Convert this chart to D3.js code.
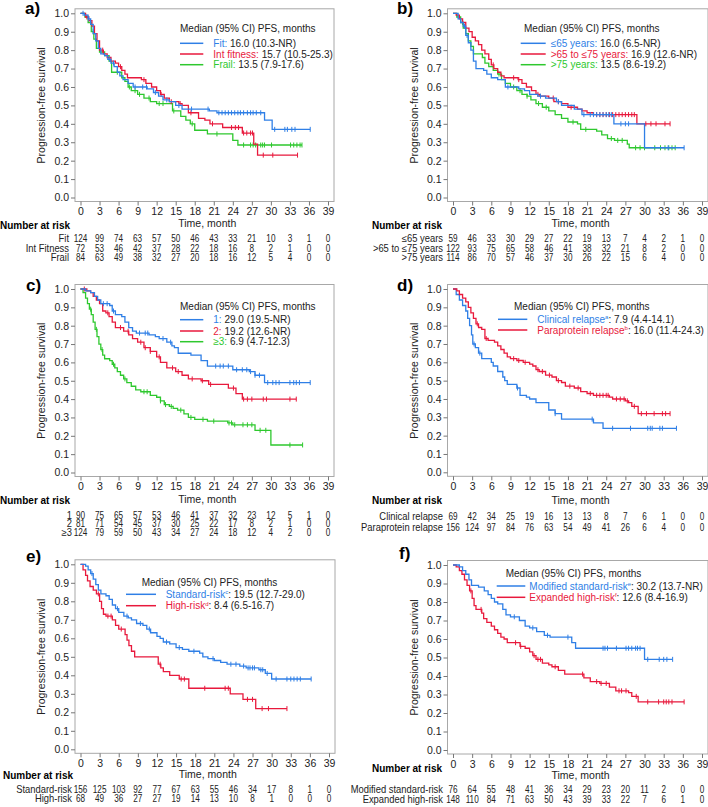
<!DOCTYPE html>
<html><head><meta charset="utf-8">
<script src="https://cdn.jsdelivr.net/npm/d3@7/dist/d3.min.js"></script>
<style>
body{margin:0;background:#fff}
svg{display:block;font-family:Arial,"Liberation Sans",sans-serif}
</style>
</head><body>
<svg id="chart" width="708" height="807"></svg>
<script>
// ---------------- DATA ----------------
const timeTicks = [0,3,6,9,12,15,18,21,24,27,30,33,36,39];
const yTicks = [0,0.1,0.2,0.3,0.4,0.5,0.6,0.7,0.8,0.9,1.0];
const legendTitle = "Median (95% CI) PFS, months";
const colors = {blue:"#2f7fe6", red:"#e8193c", green:"#2ec82e"};

// Panel a: fitness
const aFitSteps = [[0,1],[0.6,0.99],[1.2,0.97],[1.6,0.94],[2,0.89],[2.4,0.85],[2.8,0.81],[3.2,0.78],[3.8,0.77],[4.3,0.75],[4.8,0.73],[5.3,0.71],[5.8,0.68],[6.2,0.66],[6.7,0.64],[7.5,0.62],[8.3,0.6],[10.5,0.59],[11.5,0.57],[12.3,0.55],[13,0.53],[14,0.52],[15,0.5],[16,0.48],[20.3,0.47],[21.5,0.46],[29,0.42],[30.2,0.37]];
const aFitCensor = [0.4,1.3,4.6,5.2,8.6,9.8,10.4,11.8,13.6,15.5,17.5,20.1,21.8,22.3,22.8,23.3,23.8,24.3,24.8,25.2,25.7,26.3,26.8,27.2,27.7,28.4,30.6,32.2,32.6,33.3,33.8,36.2];
const aIntSteps = [[0,1],[0.8,0.98],[1.3,0.96],[1.8,0.93],[2.2,0.89],[2.6,0.85],[3,0.8],[3.6,0.78],[4.2,0.76],[4.8,0.74],[5.5,0.73],[6,0.71],[6.5,0.69],[7,0.67],[7.4,0.65],[9.6,0.64],[10.3,0.62],[11.2,0.6],[12,0.58],[12.6,0.56],[13.2,0.54],[14,0.52],[15.5,0.51],[16,0.5],[17,0.46],[18.6,0.43],[19.6,0.42],[20.4,0.4],[22.4,0.38],[25.5,0.35],[27.3,0.29],[27.9,0.23]];
const aIntCensor = [1,3.5,6.3,10,12.7,14.3,15.7,17.4,20.8,23.8,24.4,24.9,25.7,26.2,26.8,27.1,28.8,30.3,34.2];
const aFrailSteps = [[0,1],[0.7,0.98],[1.2,0.95],[1.7,0.9],[2.1,0.86],[2.5,0.81],[3,0.79],[3.8,0.77],[4.5,0.74],[4.9,0.68],[6.5,0.65],[7,0.63],[7.5,0.6],[8,0.58],[9,0.56],[10,0.54],[11,0.52],[12,0.51],[14.5,0.47],[15.8,0.44],[16.6,0.42],[17.3,0.4],[18,0.365],[20,0.345],[24,0.31],[24.8,0.285]];
const aFrailCensor = [2,5.8,7.7,8.6,9.3,10.8,12.4,13,14.7,17.6,21.5,25.7,26.8,27.2,27.6,28.4,28.7,29,30.1,33.1,33.6,34.1,34.6,34.9];
const aRiskLabels = ["Fit","Int Fitness","Frail"];
const aRiskFit = [124,99,74,63,57,50,46,43,33,21,10,3,1,0];
const aRiskInt = [72,53,46,42,37,28,22,18,16,8,2,1,0,0];
const aRiskFrail = [84,63,49,38,32,27,20,18,16,12,5,4,0,0];
const aLegendNames = ["Fit:","Int fitness:","Frail:"];
const aLegendValues = [" 16.0 (10.3-NR)"," 15.7 (10.5-25.3)"," 13.5 (7.9-17.6)"];

// Panel b: age
const bLe65Steps = [[0,1],[0.8,0.97],[1.2,0.95],[1.6,0.93],[2,0.88],[2.4,0.84],[2.8,0.8],[3.2,0.74],[3.6,0.7],[4.8,0.69],[5.3,0.67],[6,0.65],[7,0.64],[8.2,0.6],[10.3,0.59],[11.2,0.58],[12,0.56],[13.3,0.55],[14.5,0.54],[16.2,0.52],[17,0.5],[19,0.48],[20.2,0.45],[25.2,0.4],[30,0.27]];
const bLe65Censor = [1.8,2.2,8.6,13.7,16.5,20.5,21.5,22,22.5,23,23.5,24,24.4,24.8,26.3,27,27.5,33.7,36.2];
const bMidSteps = [[0,1],[0.5,0.99],[1,0.97],[1.5,0.95],[2,0.92],[2.5,0.9],[3,0.87],[3.5,0.85],[4,0.83],[4.5,0.8],[5,0.78],[5.6,0.75],[6,0.72],[6.4,0.7],[7,0.68],[7.5,0.66],[8,0.65],[10.2,0.64],[10.8,0.62],[11.5,0.6],[12.3,0.58],[13,0.56],[13.6,0.55],[15,0.54],[15.8,0.52],[17,0.51],[18,0.49],[19.5,0.48],[20.2,0.47],[21,0.46],[22,0.45],[28.8,0.4]];
const bMidCensor = [6.3,9.5,10.3,13.3,15.7,16.5,18.5,22.5,23,23.5,24,24.5,25,25.5,26,26.5,27,27.5,28,28.4,30.2,31,31.8,33.2,34];
const bGt75Steps = [[0,1],[0.6,0.98],[1.2,0.95],[1.6,0.92],[2,0.89],[2.4,0.85],[2.8,0.82],[3.2,0.78],[4.6,0.76],[5,0.73],[5.6,0.71],[6.3,0.69],[7,0.67],[7.6,0.64],[8.2,0.62],[9,0.6],[10,0.58],[10.8,0.56],[11.6,0.55],[12.2,0.53],[13,0.51],[14,0.49],[15,0.47],[16,0.45],[17,0.43],[18,0.41],[19.5,0.4],[20,0.37],[22.5,0.36],[23.3,0.34],[24.2,0.32],[25.3,0.31],[27.3,0.29],[27.6,0.27]];
const bGt75Censor = [1.5,7.2,9.5,10.5,11.6,13.4,14.6,18.8,20.8,24.8,25.8,26.5,28.6,29.3,30,31.6,32.5,33.2,33.8,34.3,34.8];
const bRiskLabels = ["\u226465 years",">65 to \u226475 years",">75 years"];
const bRiskLe65 = [59,46,33,30,29,27,22,19,13,7,4,2,1,0];
const bRiskMid = [122,93,75,65,58,46,41,38,32,21,8,2,0,0];
const bRiskGt75 = [114,86,70,57,46,37,30,26,22,15,6,4,0,0];
const bLegendNames = ["\u226465 years:",">65 to \u226475 years:",">75 years:"];
const bLegendValues = [" 16.0 (6.5-NR)"," 16.9 (12.6-NR)"," 13.5 (8.6-19.2)"];

// Panel c: prior lines
const c1Steps = [[0,1],[0.8,0.99],[1.6,0.98],[2.2,0.96],[2.7,0.94],[3.2,0.92],[4.6,0.91],[5,0.88],[5.5,0.86],[6.5,0.85],[7,0.82],[7.6,0.79],[8.2,0.77],[8.8,0.76],[10.8,0.75],[11.8,0.74],[12.4,0.73],[13.6,0.71],[14.4,0.69],[14.8,0.68],[15.4,0.65],[17.4,0.64],[19,0.61],[20,0.58],[24,0.56],[26.6,0.55],[27.5,0.53],[29,0.49]];
const c1Censor = [3.6,4.2,5.2,9.3,10.2,10.6,13,14.2,21.3,22,22.5,23.3,24.6,25.5,26.2,26.8,27.5,28.2,29.5,30.3,30.8,31.3,33,33.6,34,34.5,36.2];
const c2Steps = [[0,1],[1,0.99],[1.6,0.98],[2,0.96],[2.5,0.94],[3,0.92],[3.5,0.88],[4,0.87],[4.5,0.85],[5,0.82],[5.5,0.79],[6.8,0.77],[7.6,0.75],[8.2,0.73],[9,0.71],[10,0.68],[11,0.66],[12,0.63],[12.6,0.6],[13.6,0.57],[15,0.55],[16,0.53],[17,0.51],[19,0.5],[20.2,0.48],[23.3,0.46],[24.5,0.43],[25.5,0.4]];
const c2Censor = [0.6,4.3,6.3,7.5,9.5,10.2,11,12.4,14.5,15.4,17.6,19.2,20.5,24.1,25.7,26.3,27,28.8,29.3,33,34];
const c3Steps = [[0,1],[0.4,0.98],[0.8,0.95],[1.1,0.92],[1.4,0.89],[1.7,0.86],[2,0.82],[2.3,0.78],[2.6,0.74],[2.9,0.7],[3.2,0.67],[3.5,0.64],[3.8,0.62],[4.6,0.61],[5,0.59],[5.4,0.57],[5.8,0.55],[6.3,0.53],[6.8,0.51],[7.3,0.49],[8,0.47],[8.7,0.45],[9.5,0.44],[11,0.42],[12,0.41],[12.6,0.39],[13.2,0.37],[14,0.36],[14.6,0.35],[15.3,0.34],[16.3,0.32],[17,0.3],[18,0.29],[20,0.28],[23.2,0.27],[24,0.26],[27.5,0.23],[30,0.15]];
const c3Censor = [1.6,2.5,3.4,5.2,7,10,10.5,12.6,13.4,14.3,15.8,17.4,19.3,21,23.4,23.8,24.3,25.6,26.3,27,28.3,29.2,33,35];
const cRiskLabels = ["1","2","\u22653"];
const cRisk1 = [90,75,65,57,53,46,41,37,32,23,12,5,1,0];
const cRisk2 = [81,71,54,45,37,30,25,22,17,8,2,1,0,0];
const cRisk3 = [124,79,59,50,43,34,27,24,18,12,4,2,0,0];
const cLegendNames = ["1:","2:","\u22653:"];
const cLegendValues = [" 29.0 (19.5-NR)"," 19.2 (12.6-NR)"," 6.9 (4.7-12.3)"];

// Panel d: relapse type
const dClinSteps = [[0,1],[0.5,0.97],[1,0.94],[1.5,0.91],[2,0.88],[2.3,0.84],[2.6,0.8],[2.9,0.75],[3.1,0.7],[3.5,0.68],[4,0.65],[4.5,0.62],[6,0.6],[6.3,0.58],[7,0.55],[7.8,0.52],[8.1,0.5],[8.5,0.48],[10,0.46],[10.5,0.42],[11.5,0.41],[12,0.4],[13,0.38],[15,0.34],[16,0.32],[17,0.29],[22,0.27],[23.5,0.24]];
const dClinCensor = [3.3,4.2,10.1,16,21.8,25,27.8,30.5,30.9,31.2,32.4,32.8,35];
const dParaSteps = [[0,1],[0.6,0.99],[1,0.97],[1.5,0.95],[2,0.93],[2.4,0.9],[2.8,0.87],[3.2,0.84],[3.6,0.81],[4,0.79],[4.5,0.78],[5,0.73],[5.5,0.72],[6.5,0.71],[7,0.69],[7.5,0.67],[8,0.65],[8.5,0.63],[9,0.62],[10,0.61],[11,0.6],[12,0.59],[12.5,0.58],[13,0.56],[13.5,0.55],[14.5,0.53],[15.5,0.52],[16.2,0.5],[17,0.49],[17.6,0.47],[19,0.46],[20,0.44],[21,0.43],[22,0.42],[24.5,0.41],[25,0.4],[27,0.39],[27.5,0.38],[28,0.36],[29,0.32]];
const dParaCensor = [3.8,5.2,9.5,10.3,11.3,13.3,14,15.1,16.5,18.3,19.6,21.5,22.5,23,23.5,24,24.3,25.6,26.2,26.8,27.3,28.4,29.5,30.3,31.5,32.8,33.3,34];
const dRiskLabels = ["Clinical relapse","Paraprotein relapse"];
const dRiskClin = [69,42,34,25,19,16,13,13,8,7,6,1,0,0];
const dRiskPara = [156,124,97,84,76,63,54,49,41,26,6,4,0,0];
const dLegendNames = [["Clinical relapse","a"],["Paraprotein relapse","b"]];
const dLegendValues = [": 7.9 (4.4-14.1)",": 16.0 (11.4-24.3)"];

// Panel e: cytogenetic risk
const eStdSteps = [[0,1],[0.8,0.99],[1.2,0.97],[1.6,0.95],[2,0.92],[2.4,0.89],[2.8,0.86],[3.2,0.84],[4,0.83],[4.5,0.81],[5,0.78],[5.5,0.76],[6,0.74],[6.8,0.72],[7.5,0.71],[8,0.7],[8.8,0.68],[9.8,0.67],[10.4,0.65],[11,0.63],[12,0.61],[12.5,0.6],[13,0.58],[14,0.57],[15,0.55],[16,0.54],[17,0.53],[18.7,0.52],[19.2,0.5],[20,0.49],[21,0.48],[22,0.47],[23,0.46],[25,0.45],[26,0.44],[28,0.43],[29,0.41],[30,0.38]];
const eStdCensor = [1.8,5.8,7.3,9.4,10.8,13.5,15.5,17.8,20.8,23.6,24.4,25.6,26.3,26.6,27,27.3,28.3,28.6,29.3,30.7,32.4,33,33.5,34,34.5,36.2];
const eHighSteps = [[0,1],[0.4,0.97],[0.8,0.94],[1.1,0.91],[1.5,0.88],[2,0.86],[2.5,0.84],[3,0.8],[3.3,0.76],[3.6,0.73],[4,0.72],[5,0.7],[5.5,0.67],[6,0.65],[7,0.62],[7.3,0.59],[7.6,0.56],[8,0.53],[8.5,0.5],[12.2,0.46],[12.6,0.44],[13,0.42],[14,0.4],[15.5,0.38],[17,0.33],[23.5,0.3],[25.5,0.27],[27.5,0.22]];
const eHighCensor = [2.8,4.3,4.8,6.4,12.5,15.8,16.3,19.5,22.7,23.2,26.2,27,28.5,29.5,32.4];
const eRiskLabels = ["Standard-risk","High-risk"];
const eRiskStd = [156,125,103,92,77,67,63,55,46,34,17,8,1,0];
const eRiskHigh = [68,49,36,27,27,19,14,13,10,8,1,0,0,0];
const eLegendNames = [["Standard-risk","c"],["High-risk","d"]];
const eLegendValues = [": 19.5 (12.7-29.0)",": 8.4 (6.5-16.7)"];

// Panel f: modified risk
const fModSteps = [[0,1],[1,0.99],[1.5,0.97],[2,0.95],[2.5,0.92],[2.9,0.89],[4,0.88],[4.9,0.86],[5.5,0.84],[6,0.82],[6.5,0.8],[7,0.79],[7.8,0.76],[8.3,0.73],[9,0.72],[10.4,0.7],[11.3,0.67],[12,0.66],[13.1,0.64],[14.3,0.62],[15.2,0.61],[18.6,0.58],[19.2,0.55],[30,0.49]];
const fModCensor = [9.6,12.5,14.8,18,23.5,23.8,24.2,25.6,27.1,27.5,28,28.6,28.9,29.3,30.5,32.3,33,33.5,34.4];
const fExpSteps = [[0,1],[0.5,0.99],[1,0.97],[1.4,0.95],[1.8,0.92],[2.2,0.89],[2.6,0.86],[3,0.82],[3.3,0.78],[3.6,0.76],[4.5,0.74],[4.8,0.71],[5.3,0.69],[6,0.67],[6.5,0.65],[7,0.63],[7.5,0.61],[8,0.6],[8.5,0.58],[10.5,0.56],[11.3,0.55],[12,0.53],[12.5,0.51],[13,0.49],[14,0.47],[15,0.46],[15.5,0.45],[16.5,0.43],[17.5,0.41],[20.5,0.39],[21.5,0.37],[23,0.36],[24.5,0.34],[25.5,0.32],[27.5,0.31],[28,0.29],[29,0.26]];
const fExpCensor = [2.8,4.4,9.8,10.6,12.7,13.3,13.7,16,20.3,22.5,23.2,24,26,26.4,27.1,28.7,30.5,32.2,33,33.4,33.8,34.3,36.2];
const fRiskLabels = ["Modified standard-risk","Expanded high-risk"];
const fRiskMod = [76,64,55,48,41,36,34,29,23,20,11,2,0,0];
const fRiskExp = [148,110,84,71,63,50,43,39,33,22,7,6,1,0];
const fLegendNames = [["Modified standard-risk","e"],["Expanded high-risk","f"]];
const fLegendValues = [": 30.2 (13.7-NR)",": 12.6 (8.4-16.9)"];

// ---------------- LAYOUT ----------------
const panels = [
 {label:"a)", lab:[25,14], x:[80.5,328], y:[197.5,13.3], timeY:226.5,
  leg:{tx:180, ty:31.5, rows:[43.3,54,64.7], lx:[180,203.3], textX:213.3},
  nar:{x:0,y:229, labelX:69, rows:[242,251.5,261]},
  curves:[{s:aFrailSteps,c:aFrailCensor,col:colors.green,end:34.9},{s:aIntSteps,c:aIntCensor,col:colors.red,end:34.2},{s:aFitSteps,c:aFitCensor,col:colors.blue,end:36.2}],
  legCols:[colors.blue,colors.red,colors.green], legNames:aLegendNames, legVals:aLegendValues,
  riskLabels:aRiskLabels, risk:[aRiskFit,aRiskInt,aRiskFrail]},
 {label:"b)", lab:[397,14], x:[453,702], y:[197.5,13.3], timeY:226.5,
  leg:{tx:524, ty:31.5, rows:[43.3,54,64.7], lx:[520.7,545.7], textX:550.7},
  nar:{x:372,y:229, labelX:443, rows:[242,251.5,261]},
  curves:[{s:bGt75Steps,c:bGt75Censor,col:colors.green,end:34.8},{s:bMidSteps,c:bMidCensor,col:colors.red,end:34},{s:bLe65Steps,c:bLe65Censor,col:colors.blue,end:36.2}],
  legCols:[colors.blue,colors.red,colors.green], legNames:bLegendNames, legVals:bLegendValues,
  riskLabels:bRiskLabels, risk:[bRiskLe65,bRiskMid,bRiskGt75]},
 {label:"c)", lab:[26,291], x:[80.5,328], y:[472.5,289], timeY:503,
  leg:{tx:180, ty:309.5, rows:[319.7,331,341.7], lx:[180,203.3], textX:213.3},
  nar:{x:0,y:504, labelX:72, rows:[518.5,527.2,535.9]},
  curves:[{s:c3Steps,c:c3Censor,col:colors.green,end:35},{s:c2Steps,c:c2Censor,col:colors.red,end:34},{s:c1Steps,c:c1Censor,col:colors.blue,end:36.2}],
  legCols:[colors.blue,colors.red,colors.green], legNames:cLegendNames, legVals:cLegendValues,
  riskLabels:cRiskLabels, risk:[cRisk1,cRisk2,cRisk3]},
 {label:"d)", lab:[397,291], x:[453,702], y:[472.3,289], timeY:504,
  leg:{tx:514, ty:309.5, rows:[319.3,330], lx:[498,527.3], textX:537.3},
  nar:{x:372,y:504, labelX:443, rows:[519.7,530.7]},
  curves:[{s:dClinSteps,c:dClinCensor,col:colors.blue,end:35},{s:dParaSteps,c:dParaCensor,col:colors.red,end:34}],
  legCols:[colors.blue,colors.red], legNames:dLegendNames, legVals:dLegendValues,
  riskLabels:dRiskLabels, risk:[dRiskClin,dRiskPara]},
 {label:"e)", lab:[26,562], x:[80.5,329], y:[749.3,564.3], timeY:778.3,
  leg:{tx:141.7, ty:585.5, rows:[594.3,605.7], lx:[126,156], textX:165.7},
  nar:{x:3,y:779, labelX:72, rows:[793.3,802.3]},
  curves:[{s:eHighSteps,c:eHighCensor,col:colors.red,end:32.4},{s:eStdSteps,c:eStdCensor,col:colors.blue,end:36.2}],
  legCols:[colors.blue,colors.red], legNames:eLegendNames, legVals:eLegendValues,
  riskLabels:eRiskLabels, risk:[eRiskStd,eRiskHigh]},
 {label:"f)", lab:[399,559], x:[453,702], y:[750,565], timeY:779,
  leg:{tx:505.7, ty:576.5, rows:[586,597.3], lx:[496.7,525.3], textX:529.3},
  nar:{x:372,y:771.7, labelX:443, rows:[793.3,803.3]},
  curves:[{s:fExpSteps,c:fExpCensor,col:colors.red,end:36.2},{s:fModSteps,c:fModCensor,col:colors.blue,end:34.4}],
  legCols:[colors.blue,colors.red], legNames:fLegendNames, legVals:fLegendValues,
  riskLabels:fRiskLabels, risk:[fRiskMod,fRiskExp]}
];

const svg = d3.select("#chart");
const TXT = "#222";
const FONT = "Arial, 'Liberation Sans', sans-serif";

function survAt(steps, t){
  let s = 1;
  for (const [tt, v] of steps){ if (tt <= t) s = v; else break; }
  return s;
}

panels.forEach(p => {
  const x = d3.scaleLinear().domain([0,39]).range(p.x);
  const y = d3.scaleLinear().domain([0,1]).range(p.y);
  const g = svg.append("g");
  const bx0 = x(0)-5.5, bx1 = x(39)+6, by0 = y(1)-4.5, by1 = y(0)+4;

  // frame
  g.append("rect").attr("x",bx0).attr("y",by0).attr("width",bx1-bx0).attr("height",by1-by0)
    .attr("fill","none").attr("stroke","#a8a8a8").attr("stroke-width",1);

  // y axis ticks
  const yAxis = d3.axisLeft(y).tickValues(yTicks).tickFormat(d3.format(".1f")).tickSize(4).tickPadding(2);
  const ya = g.append("g").attr("transform",`translate(${bx0},0)`).call(yAxis);
  ya.select(".domain").remove();
  ya.selectAll("line").attr("stroke","#777");
  ya.selectAll("text").attr("fill",TXT).style("font-size","10.5px").style("font-family",FONT);

  // x axis ticks
  const xAxis = d3.axisBottom(x).tickValues(timeTicks).tickFormat(d3.format("d")).tickSize(4).tickPadding(2.5);
  const xa = g.append("g").attr("transform",`translate(0,${by1})`).call(xAxis);
  xa.select(".domain").remove();
  xa.selectAll("line").attr("stroke","#777");
  xa.selectAll("text").attr("fill",TXT).style("font-size","10.5px").style("font-family",FONT);

  // axis titles
  g.append("text").attr("x",(x(0)+x(39))/2 + 3).attr("y",p.timeY).attr("text-anchor","middle")
    .attr("fill",TXT).style("font-size","10.5px").text("Time, month");
  g.append("text").attr("transform",`translate(${bx0-30},${(y(0)+y(1))/2}) rotate(-90)`)
    .attr("text-anchor","middle").attr("fill",TXT).style("font-size","10.5px").text("Progression-free survival");

  // panel label
  g.append("text").attr("x",p.lab[0]).attr("y",p.lab[1]).attr("fill","#000")
    .style("font-size","17px").style("font-weight","bold").text(p.label);

  // curves
  const line = d3.line().x(d=>x(d[0])).y(d=>y(d[1])).curve(d3.curveStepAfter);
  p.curves.forEach(cv => {
    const pts = cv.s.concat([[cv.end, cv.s[cv.s.length-1][1]]]);
    g.append("path").attr("d",line(pts)).attr("fill","none").attr("stroke",cv.col).attr("stroke-width",1.3);
    g.selectAll(null).data(cv.c).enter().append("line")
      .attr("x1",d=>x(d)).attr("x2",d=>x(d))
      .attr("y1",d=>y(survAt(cv.s,d))-2.5).attr("y2",d=>y(survAt(cv.s,d))+2.5)
      .attr("stroke",cv.col).attr("stroke-width",1);
  });

  // legend
  const L = p.leg;
  g.append("text").attr("x",L.tx).attr("y",L.ty).attr("fill",TXT).style("font-size","10px").text(legendTitle);
  p.legNames.forEach((nm,i) => {
    const ry = L.rows[i];
    g.append("line").attr("x1",L.lx[0]).attr("x2",L.lx[1]).attr("y1",ry).attr("y2",ry)
      .attr("stroke",p.legCols[i]).attr("stroke-width",1.5);
    const t = g.append("text").attr("x",L.textX).attr("y",ry+3.6).style("font-size","10px");
    if (Array.isArray(nm)){
      t.append("tspan").attr("fill",p.legCols[i]).text(nm[0]);
      t.append("tspan").attr("fill",p.legCols[i]).attr("dy",-3.5).style("font-size","6px").text(nm[1]);
      t.append("tspan").attr("fill",TXT).attr("dy",3.5).text(p.legVals[i]);
    } else {
      t.append("tspan").attr("fill",p.legCols[i]).text(nm);
      t.append("tspan").attr("fill",TXT).text(p.legVals[i]);
    }
  });

  // number at risk
  const N = p.nar;
  g.append("text").attr("x",N.x).attr("y",N.y).attr("fill","#000").style("font-size","10px")
    .style("font-weight","bold").text("Number at risk");
  p.riskLabels.forEach((lb,i) => {
    const ry = N.rows[i];
    g.append("text").attr("transform",`translate(${N.labelX},${ry}) scale(0.94,1)`)
      .attr("text-anchor","end").attr("fill",TXT)
      .style("font-size","10px").text(lb);
    g.selectAll(null).data(p.risk[i]).enter().append("text")
      .attr("transform",(d,j)=>`translate(${x(timeTicks[j])},${ry}) scale(0.82,1)`)
      .attr("text-anchor","middle")
      .attr("fill",TXT).style("font-size","10px").text(d=>d);
  });
});
</script>
</body></html>
